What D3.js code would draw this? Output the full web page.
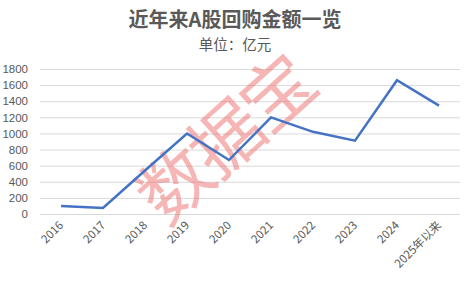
<!DOCTYPE html>
<html>
<head>
<meta charset="utf-8">
<script src="https://cdn.jsdelivr.net/npm/d3@7"></script>
<style>
  body { margin: 0; background: #fff; }
  text { font-family: "Noto Sans CJK SC", "Noto Sans", sans-serif; }
</style>
</head>
<body>
<div id="chart"></div>
<script>
// data
var years = ["2016", "2017", "2018", "2019", "2020", "2021", "2022", "2023", "2024", "2025年以来"];
var amounts = [100, 75, 540, 1000, 670, 1200, 1020, 910, 1660, 1345];
var yTicks = [0, 200, 400, 600, 800, 1000, 1200, 1400, 1600, 1800];

var W = 469, H = 281;
var margin = {top: 69, right: 9, bottom: 67, left: 40};

var svg = d3.select("#chart")
  .append("svg")
    .attr("width", W)
    .attr("height", H);

var x = d3.scaleBand()
  .domain(years)
  .range([margin.left, W - margin.right]);

var y = d3.scaleLinear()
  .domain([0, 1800])
  .range([H - margin.bottom, margin.top]);

// gridlines + y labels
var yAxis = svg.append("g")
  .attr("transform", "translate(" + margin.left + ",0)")
  .call(d3.axisLeft(y).tickValues(yTicks).tickFormat(d3.format("d"))
    .tickSize(-(W - margin.left - margin.right)).tickPadding(12))
yAxis.select(".domain").remove()
yAxis.selectAll(".tick line").attr("stroke", "#d9d9d9").attr("stroke-width", 1)
yAxis.selectAll(".tick text")
  .attr("fill", "#595959")
  .style("font-size", "11.5px")
  .style("font-family", "'Liberation Sans', Arial, sans-serif")

// x labels
var xAxis = svg.append("g")
  .attr("transform", "translate(0," + (H - margin.bottom) + ")")
  .call(d3.axisBottom(x).tickSize(0).tickPadding(0))
xAxis.select(".domain").remove()
xAxis.selectAll(".tick text")
  .attr("fill", "#595959")
  .style("font-size", "11.5px")
  .attr("text-anchor", "end")
  .attr("dy", 0)
  .attr("transform", "translate(3,12) rotate(-45)")

// watermark
svg.append("text")
  .attr("transform", "translate(226,140) rotate(-42)")
  .attr("text-anchor", "middle")
  .attr("dy", "0.35em")
  .attr("fill", "rgba(240,110,110,0.5)")
  .style("font-size", "72px")
  .style("letter-spacing", "-3px")
  .text("数据宝")

// line
var line = d3.line()
  .x(function(d, i) { return x(years[i]) + x.bandwidth() / 2; })
  .y(function(d) { return y(d); })

svg.append("path")
  .datum(amounts)
  .attr("d", line)
  .attr("fill", "none")
  .attr("stroke", "#4472c4")
  .attr("stroke-width", 2.5)
  .attr("stroke-linejoin", "miter")

// titles
svg.append("text")
  .attr("x", 235).attr("y", 27)
  .attr("text-anchor", "middle")
  .attr("fill", "#595959")
  .style("font-size", "20px")
  .style("font-weight", "bold")
  .text("近年来A股回购金额一览")

svg.append("text")
  .attr("x", 235).attr("y", 50)
  .attr("text-anchor", "middle")
  .attr("fill", "#595959")
  .style("font-size", "14.5px")
  .text("单位：亿元")
</script>
</body>
</html>
